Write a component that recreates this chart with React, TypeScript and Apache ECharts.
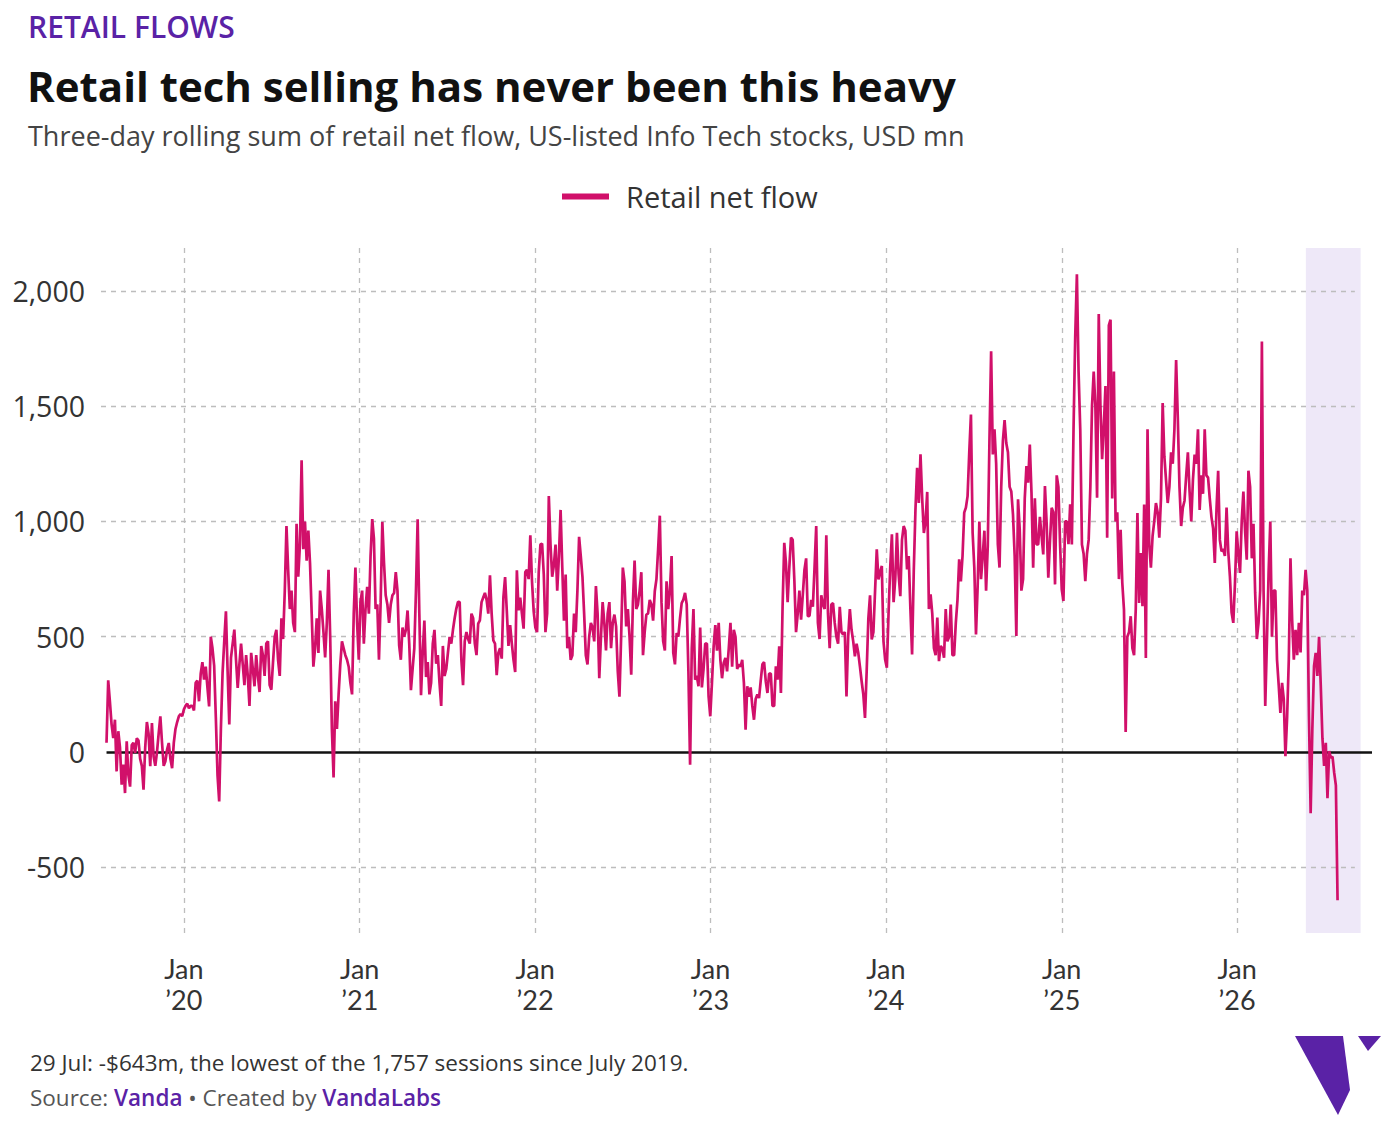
import React, { useEffect, useRef } from "react";
import * as echarts from "echarts";

// ---------- data (three-day rolling sum of retail net flow, USD mn), half-week samples ----------
const SERIES_NAME = "Retail net flow";
const END_DATE = Date.UTC(2026, 6, 29); // 29 Jul 2026, last session
const STEP_DAYS = 3.5;

const flowJul2019toDec2020 = [
  40, 311, 220, 120, 60, 140, -84, 90, 20, -142,
  -55, -178, 46, -100, -150, 30, 40, -4, 60, 50,
  -30, -60, -163, 20, 130, 80, -62, 126, -20, -60,
  0, 80, 155, 40, -60, -40, 10, 39, -30, -70,
  40, 100, 130, 155, 165, 155, 185, 200, 210, 190,
  200, 200, 180, 300, 310, 220, 340, 390, 314, 370,
  280, 198, 500, 450, 375, 150, -100, -214, 100, 343,
  480, 610, 350, 119, 408, 470, 531, 400, 278, 380,
  470, 380, 290, 420, 330, 200, 430, 360, 285, 420,
  330, 260, 460, 420, 330, 470, 480, 290, 270, 390,
  500, 530, 400, 330, 580, 490, 700, 980, 790, 620,
  700, 560, 520, 990, 760, 900, 1265, 880, 1000, 830,
  960, 820, 600, 370, 450, 580, 430, 700, 620, 520,
  410, 560, 790, 500, 100, -110, 220, 100, 250, 380,
  480, 450, 420, 400, 370, 300, 250, 600, 800, 560,
  400,
];

const flowJan2021toJun2022 = [
  650, 700, 470, 620, 716, 600, 850, 1010, 925, 620,
  640, 400, 650, 998, 820, 680, 640, 560, 640, 680,
  690, 780, 700, 463, 400, 540, 500, 530, 614, 470,
  268, 360, 448, 700, 1009, 600, 246, 430, 570, 325,
  390, 250, 300, 470, 530, 383, 420, 300, 200, 460,
  330, 360, 430, 499, 470, 530, 580, 622, 651, 650,
  400, 290, 480, 520, 490, 470, 600, 580, 470, 420,
  557, 571, 650, 670, 690, 660, 600, 766, 600, 484,
  470, 333, 430, 450, 405, 672, 759, 614, 460, 550,
  470, 400, 347, 788, 614, 670, 600, 535, 780, 790,
  750, 940, 740, 610, 540, 520, 780, 900, 904, 770,
  520, 600, 1110, 900, 760, 810, 900, 700, 850, 1050,
  800, 570, 770, 450, 500, 400, 420, 600, 520, 700,
  933, 850, 760, 600, 420, 380, 500, 560, 540, 480,
  720, 600, 320, 500, 650, 560, 441, 600, 650,
];

const flowJul2022toNov2023 = [
  450, 560, 596, 545, 350, 240, 500, 800, 740, 545,
  620, 500, 335, 650, 830, 620, 640, 700, 780, 420,
  520, 596, 600, 660, 640, 570, 697, 750, 880, 1025,
  650, 480, 440, 740, 620, 700, 850, 430, 380, 516,
  500, 580, 646, 661, 690, 640, 350, -55, 450, 620,
  314, 330, 285, 540, 280, 360, 470, 470, 241, 155,
  300, 458, 550, 440, 560, 400, 320, 386, 408, 350,
  450, 560, 370, 530, 500, 360, 380, 370, 400, 300,
  97, 285, 240, 280, 200, 140, 230, 250, 234, 310,
  380, 390, 307, 256, 340, 340, 200, 200, 372, 314,
  458, 256, 632, 907, 820, 650, 800, 930, 920, 745,
  520, 600, 700, 574, 680, 790, 840, 589, 590, 660,
  630, 800, 980, 560, 490, 680, 640, 620, 940, 600,
  450, 640, 646, 560, 500, 470, 630, 520, 510, 520,
  241, 500, 620, 530, 480, 415, 470, 430, 370, 307,
  250, 148, 350,
];

const flowNov2023toFeb2025 = [
  580, 680, 488, 520, 700, 879, 749, 780, 807, 480,
  400, 366, 600, 800, 944, 650, 750, 951, 770, 676,
  920, 980, 960, 792, 850, 620, 423, 785, 1050, 1233,
  1080, 1291, 1100, 950, 1000, 1128, 620, 684, 600, 450,
  420, 583, 394, 460, 450, 409, 620, 480, 500, 640,
  420, 420, 560, 660, 836, 740, 850, 1038, 1060, 1110,
  1300, 1464, 951, 800, 510, 720, 1000, 750, 850, 960,
  700, 893, 1350, 1738, 1291, 1400, 1250, 900, 800, 1150,
  1350, 1440, 1340, 1300, 1150, 1130, 1030, 850, 503, 1096,
  966, 700, 750, 1100, 1240, 1168, 1334, 1125, 799, 1100,
  900, 900, 1020, 937, 857, 1154, 995, 756, 915, 1059,
  1040, 727, 1200, 1150, 900, 705, 655, 1000, 1000, 901,
  1074, 900, 1400, 1800, 2072, 1650, 1400, 900, 860, 741,
  860, 920, 1150, 1501, 1650, 1500, 1103, 1900, 1500, 1270,
  1414, 1587, 929, 1850,
];

const flowFeb2025toMar2026 = [
  1875, 1100, 1650, 1000, 1040, 750, 964, 733, 617, 87,
  500, 520, 589, 450, 420, 620, 1037, 646, 863, 632,
  1073, 408, 1400, 900, 800, 936, 1000, 1080, 1040, 930,
  1100, 1514, 1283, 1180, 1080, 1150, 1300, 1250, 1400, 1700,
  1450, 1150, 980, 1060, 1090, 1200, 1300, 1130, 1000, 1180,
  1290, 1250, 1400, 1050, 1200, 1120, 1400, 1200, 1190, 1100,
  1020, 970, 820, 1050, 1220, 920, 870, 880, 850, 1060,
  870, 760, 605, 560, 733, 957, 860, 777, 1000, 1130,
  960, 834, 1220, 1150, 840, 990, 690, 490, 560, 700,
  1780, 700, 200, 480, 780, 1000, 500, 700, 700, 400,
  290, 170, 300,
];

const flowMar2026toJul2026 = [
  230, -18, 150, 400, 840, 571, 400, 530, 420, 560,
  432, 700, 680, 790, 700, 150, -265, 100, 372, 430,
  330, 500, 290, 60, -60, 40, -200, 4, -26, -20,
  -90, -145, -643,
];

const Y_TICKS = [-500, 0, 500, 1000, 1500, 2000];
const X_TICK_YEARS = [2020, 2021, 2022, 2023, 2024, 2025, 2026];
const Y_MIN = -785;
const Y_MAX = 2186;
const X_MIN = Date.UTC(2019, 6, 12, 12);
const X_MAX = Date.UTC(2026, 9, 8, 16);
const GRID_LINE_END = Date.UTC(2026, 8, 3);
const SHADE_START = Date.UTC(2026, 4, 24);
const SHADE_END = Date.UTC(2026, 8, 15);

// ---------- styles ----------
const FONT = '"Open Sans", "Noto Sans", Lato, sans-serif';
const AXIS_FONT = 'Lato, "Open Sans", sans-serif';
const LINE_COLOR = "#D1106A";
const PURPLE = "#5A22A6";
const GRID_COLOR = "#BDBDBD";

const DAY = 86400000;

export default function App() {
  const ref = useRef<HTMLDivElement>(null);

  useEffect(() => {
    if (!ref.current) return;
    const chart = echarts.init(ref.current, undefined, { renderer: "svg" });

    const values = [
      ...flowJul2019toDec2020,
      ...flowJan2021toJun2022,
      ...flowJul2022toNov2023,
      ...flowNov2023toFeb2025,
      ...flowFeb2025toMar2026,
      ...flowMar2026toJul2026,
    ];
    const n = values.length;
    const data = values.map((v, i) => [END_DATE - (n - 1 - i) * STEP_DAYS * DAY, v]);
    const firstDate = data[0][0];

    const xTicks = X_TICK_YEARS.map((y) => Date.UTC(y, 0, 1));

    const dashed = { type: [5, 5] as any, color: GRID_COLOR, width: 1.3 };

    const markLineData: any[] = [];
    Y_TICKS.filter((v) => v !== 0).forEach((v) => {
      markLineData.push([
        { coord: [X_MIN, v], lineStyle: dashed },
        { coord: [GRID_LINE_END, v] },
      ]);
    });
    xTicks.forEach((t) => {
      markLineData.push({ xAxis: t, lineStyle: dashed });
    });
    markLineData.push([
      { coord: [firstDate, 0], lineStyle: { type: "solid", color: "#111", width: 2.6 } },
      { coord: [X_MAX, 0] },
    ]);

    const option: any = {
      animation: false,
      backgroundColor: "#ffffff",
      grid: { left: 101, right: 17, top: 248, bottom: 199, outerBoundsMode: "none" },
      legend: {
        data: [SERIES_NAME],
        left: 557,
        top: 177,
        icon: "rect",
        itemWidth: 47,
        itemHeight: 6,
        selectedMode: false,
        textStyle: { fontSize: 29, color: "#333", fontFamily: FONT, padding: [0, 0, 0, 12] },
      },
      xAxis: {
        type: "value",
        min: X_MIN,
        max: X_MAX,
        axisLine: { show: false },
        axisTick: { show: false },
        splitLine: { show: false },
        axisLabel: {
          customValues: xTicks,
          formatter: (v: number) => "Jan\n\u2019" + String(new Date(v).getUTCFullYear()).slice(2),
          fontSize: 27,
          lineHeight: 31,
          color: "#333",
          fontFamily: AXIS_FONT,
          margin: 20,
          hideOverlap: false,
        },
      },
      yAxis: {
        type: "value",
        min: Y_MIN,
        max: Y_MAX,
        axisLine: { show: false },
        axisTick: { show: false },
        splitLine: { show: false },
        axisLabel: {
          customValues: Y_TICKS,
          formatter: (v: number) => v.toLocaleString("en-US"),
          fontSize: 28.5,
          color: "#333",
          fontFamily: FONT,
          margin: 16,
        },
      },
      series: [
        {
          type: "line",
          name: SERIES_NAME,
          data,
          showSymbol: false,
          symbol: "none",
          z: 3,
          lineStyle: { color: LINE_COLOR, width: 2.7 },
          itemStyle: { color: LINE_COLOR },
          emphasis: { disabled: true },
          markArea: {
            silent: true,
            z: 0,
            itemStyle: { color: "#EEE8F8" },
            label: { show: false },
            data: [[{ xAxis: SHADE_START }, { xAxis: SHADE_END }]],
          },
          markLine: {
            silent: true,
            z: 1,
            symbol: ["none", "none"],
            label: { show: false },
            emphasis: { disabled: true },
            data: markLineData,
          },
        },
      ],
      graphic: [
        {
          type: "text",
          x: 28,
          y: 26,
          style: {
            text: "RETAIL FLOWS",
            fontSize: 30,
            fontWeight: 600,
            fontFamily: FONT,
            fill: PURPLE,
            verticalAlign: "middle",
          },
        },
        {
          type: "text",
          x: 27,
          y: 85,
          style: {
            text: "Retail tech selling has never been this heavy",
            fontSize: 42,
            fontWeight: "bold",
            fontFamily: FONT,
            fill: "#111",
            verticalAlign: "middle",
          },
        },
        {
          type: "text",
          x: 28,
          y: 135,
          style: {
            text: "Three-day rolling sum of retail net flow, US-listed Info Tech stocks, USD mn",
            fontSize: 27,
            fontFamily: FONT,
            fill: "#444",
            verticalAlign: "middle",
          },
        },
        {
          type: "text",
          x: 30,
          y: 1062,
          style: {
            text: "29 Jul: -$643m, the lowest of the 1,757 sessions since July 2019.",
            fontSize: 22.5,
            fontFamily: FONT,
            fill: "#333",
            verticalAlign: "middle",
          },
        },
        {
          type: "text",
          x: 30,
          y: 1097,
          style: {
            text: "{g|Source: }{p|Vanda}{g| \u2022 Created by }{p|VandaLabs}",
            fontSize: 22.5,
            fontFamily: FONT,
            verticalAlign: "middle",
            rich: {
              g: { fontSize: 22.5, fontFamily: FONT, fill: "#555", color: "#555" },
              p: { fontSize: 22.5, fontFamily: FONT, fontWeight: 600, fill: PURPLE, color: PURPLE },
            },
          },
        },
        {
          type: "polygon",
          shape: {
            points: [
              [1295, 1036],
              [1343, 1036],
              [1350, 1090],
              [1338, 1115],
            ],
          },
          style: { fill: PURPLE },
        },
        {
          type: "polygon",
          shape: {
            points: [
              [1358, 1036],
              [1381, 1036],
              [1368, 1051],
            ],
          },
          style: { fill: PURPLE },
        },
      ],
    };

    chart.setOption(option);
    return () => chart.dispose();
  }, []);

  return (
    <div
      ref={ref}
      style={{ position: "fixed", left: 0, top: 0, width: 1389, height: 1132, background: "#fff" }}
    />
  );
}
